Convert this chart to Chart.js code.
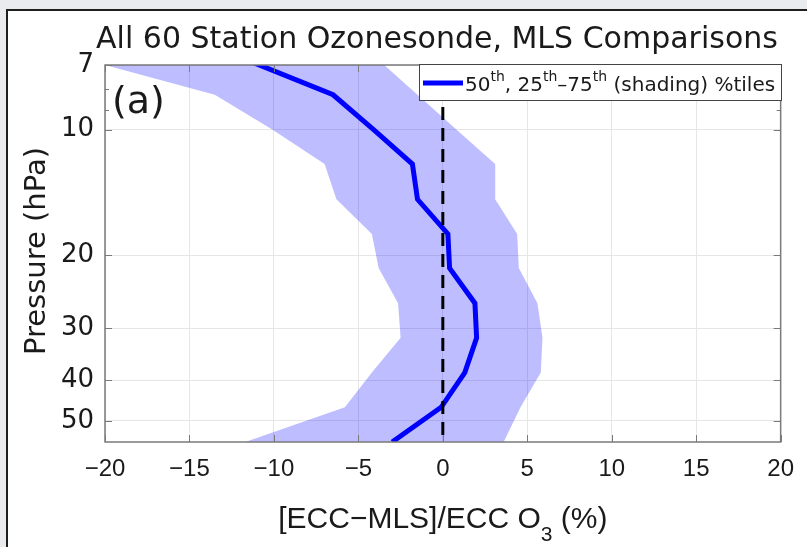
<!DOCTYPE html>
<html>
<head>
<meta charset="utf-8">
<script src="https://cdn.jsdelivr.net/npm/chart.js@4.4.1/dist/chart.umd.min.js"></script>
<style>
html, body { margin: 0; padding: 0; background: #e9ebef; overflow: hidden; }
#panel { position: absolute; left: 6px; top: 9px; width: 805px; height: 540px; background: #fff; border-top: 2px solid #1e1e1e; border-left: 2px solid #1e1e1e; }
#wrap { position: absolute; left: 0; top: 0; width: 807px; height: 547px; }
</style>
</head>
<body>
<div id="panel"></div>
<div id="wrap"><canvas id="grafica" width="807" height="547"></canvas></div>
<script>
// MLS pressure levels (hPa) and the sonde-MLS differences (%)
const pressures = [6.81, 8.25, 10.0, 12.1, 14.7, 17.8, 21.5, 26.1, 31.6, 38.3, 46.4, 56.2];
const median = [-11.6, -6.5, -4.1, -1.8, -1.5, 0.3, 0.4, 1.9, 2.0, 1.3, -0.1, -3.0];
const pct25 = [-21.1, -13.5, -10.1, -7.0, -6.3, -4.2, -3.8, -2.65, -2.5, -4.2, -5.8, -11.7];
const pct75 = [-3.8, -1.5, 0.8, 3.1, 3.1, 4.4, 4.5, 5.6, 5.9, 5.8, 4.6, 3.6];
const zeroX = 0;

const xTicks = [-20, -15, -10, -5, 0, 5, 10, 15, 20];
const yTicks = [7, 10, 20, 30, 40, 50];
const yMinor = [8, 9];
const yLimits = [7, 56.2];

const narrow = '"Liberation Sans Narrow", "Liberation Sans", sans-serif';
const wide = '"DejaVu Sans", sans-serif';

// shaded band: 25th going down, 75th coming back up
const band = pressures.map((p, i) => ({ x: pct25[i], y: p }))
    .concat(pressures.map((p, i) => ({ x: pct75[i], y: p })).reverse());

const textPlugin = {
    id: 'texts',
    afterDatasetsDraw(chart) {
        const ctx = chart.ctx;
        const a = chart.chartArea;
        const x = chart.scales.x, y = chart.scales.y;
        ctx.save();
        // box round the axes
        ctx.strokeStyle = '#7a7a7a';
        ctx.lineWidth = 1.5;
        ctx.strokeRect(a.left, a.top, a.right - a.left, a.bottom - a.top);
        // inward ticks
        ctx.lineWidth = 1;
        ctx.beginPath();
        xTicks.forEach(v => {
            const px = Math.round(x.getPixelForValue(v)) + 0.5;
            ctx.moveTo(px, a.bottom); ctx.lineTo(px, a.bottom - 7);
            ctx.moveTo(px, a.top); ctx.lineTo(px, a.top + 7);
        });
        yTicks.forEach(v => {
            const py = Math.round(y.getPixelForValue(v)) + 0.5;
            ctx.moveTo(a.left, py); ctx.lineTo(a.left + 7, py);
            ctx.moveTo(a.right, py); ctx.lineTo(a.right - 7, py);
        });
        yMinor.forEach(v => {
            const py = Math.round(y.getPixelForValue(v)) + 0.5;
            ctx.moveTo(a.left, py); ctx.lineTo(a.left + 4, py);
            ctx.moveTo(a.right, py); ctx.lineTo(a.right - 4, py);
        });
        ctx.stroke();
        ctx.restore();
    },
    afterDraw(chart) {
        const ctx = chart.ctx;
        const a = chart.chartArea;
        ctx.save();
        ctx.fillStyle = '#1a1a1a';
        ctx.textBaseline = 'alphabetic';

        // title
        ctx.font = '30px ' + wide;
        ctx.textAlign = 'center';
        ctx.fillText('All 60 Station Ozonesonde, MLS Comparisons', 437, 48);

        // (a)
        ctx.font = '38px ' + wide;
        ctx.textAlign = 'left';
        ctx.fillText('(a)', 112, 113);

        // y title
        ctx.save();
        ctx.translate(45, 251);
        ctx.rotate(-Math.PI / 2);
        ctx.font = '29px ' + wide;
        ctx.textAlign = 'center';
        ctx.fillText('Pressure (hPa)', 0, 0);
        ctx.restore();

        // x title with subscript
        const cx = (a.left + a.right) / 2;
        const t1 = '[ECC\u2212MLS]/ECC O', t2 = '3', t3 = ' (%)';
        ctx.font = '30px ' + narrow;
        const w1 = ctx.measureText(t1).width, w3 = ctx.measureText(t3).width;
        ctx.font = '21px ' + narrow;
        const w2 = ctx.measureText(t2).width;
        let px = cx - (w1 + w2 + w3) / 2;
        ctx.font = '30px ' + narrow;
        ctx.fillText(t1, px, 528);
        ctx.font = '21px ' + narrow;
        ctx.fillText(t2, px + w1, 541);
        ctx.font = '30px ' + narrow;
        ctx.fillText(t3, px + w1 + w2, 528);

        // legend
        ctx.fillStyle = '#fff';
        ctx.fillRect(419, 64, 362, 36);
        ctx.strokeStyle = '#444';
        ctx.lineWidth = 1;
        ctx.strokeRect(419.5, 64.5, 362, 36);
        ctx.strokeStyle = '#0000ff';
        ctx.lineWidth = 5;
        ctx.beginPath();
        ctx.moveTo(423, 83); ctx.lineTo(463, 83);
        ctx.stroke();
        ctx.fillStyle = '#1a1a1a';
        const parts = [['50', 0], ['th', 1], [', 25', 0], ['th', 1], ['\u201375', 0], ['th', 1], [' (shading) %tiles', 0]];
        let lx = 465;
        parts.forEach(([s, sup]) => {
            ctx.font = (sup ? '14px ' : '20px ') + wide;
            ctx.fillText(s, lx, sup ? 81 : 91);
            lx += ctx.measureText(s).width;
        });
        ctx.restore();
    }
};

const graph = document.querySelector('#grafica');

new Chart(graph, {
    type: 'line',
    data: {
        datasets: [{
            data: band,
            fill: 'shape',
            backgroundColor: 'rgba(0, 0, 255, 0.26)',
            borderWidth: 0,
            pointRadius: 0,
            order: 3
        }, {
            data: pressures.map((p, i) => ({ x: median[i], y: p })),
            borderColor: '#0000ff',
            borderWidth: 5,
            pointRadius: 0,
            fill: false,
            order: 2
        }, {
            data: yLimits.map(p => ({ x: zeroX, y: p })),
            borderColor: '#000',
            borderWidth: 3,
            borderDash: [13, 8],
            pointRadius: 0,
            fill: false,
            order: 1
        }]
    },
    options: {
        responsive: false,
        devicePixelRatio: 1,
        animation: false,
        layout: { padding: { top: 65, right: 25, left: 0, bottom: 0 } },
        plugins: { legend: { display: false }, tooltip: { enabled: false } },
        elements: { line: { tension: 0 } },
        scales: {
            x: {
                type: 'linear',
                min: xTicks[0],
                max: xTicks[xTicks.length - 1],
                afterBuildTicks: s => { s.ticks = xTicks.map(v => ({ value: v })); },
                afterFit: s => { s.height = 105; },
                grid: { color: '#e6e6e6', drawTicks: false },
                border: { display: false },
                ticks: {
                    padding: 13,
                    color: '#1a1a1a',
                    font: { family: narrow, size: 24 },
                    callback: v => String(v).replace('-', '\u2212')
                }
            },
            y: {
                type: 'logarithmic',
                reverse: true,
                min: yLimits[0],
                max: yLimits[1],
                afterBuildTicks: s => { s.ticks = yTicks.map(v => ({ value: v })); },
                afterFit: s => { s.width = 105; },
                grid: { color: '#e6e6e6', drawTicks: false },
                border: { display: false },
                ticks: {
                    padding: 11,
                    color: '#1a1a1a',
                    font: { family: wide, size: 26 },
                    callback: v => String(v)
                }
            }
        }
    },
    plugins: [textPlugin]
});
</script>
</body>
</html>
